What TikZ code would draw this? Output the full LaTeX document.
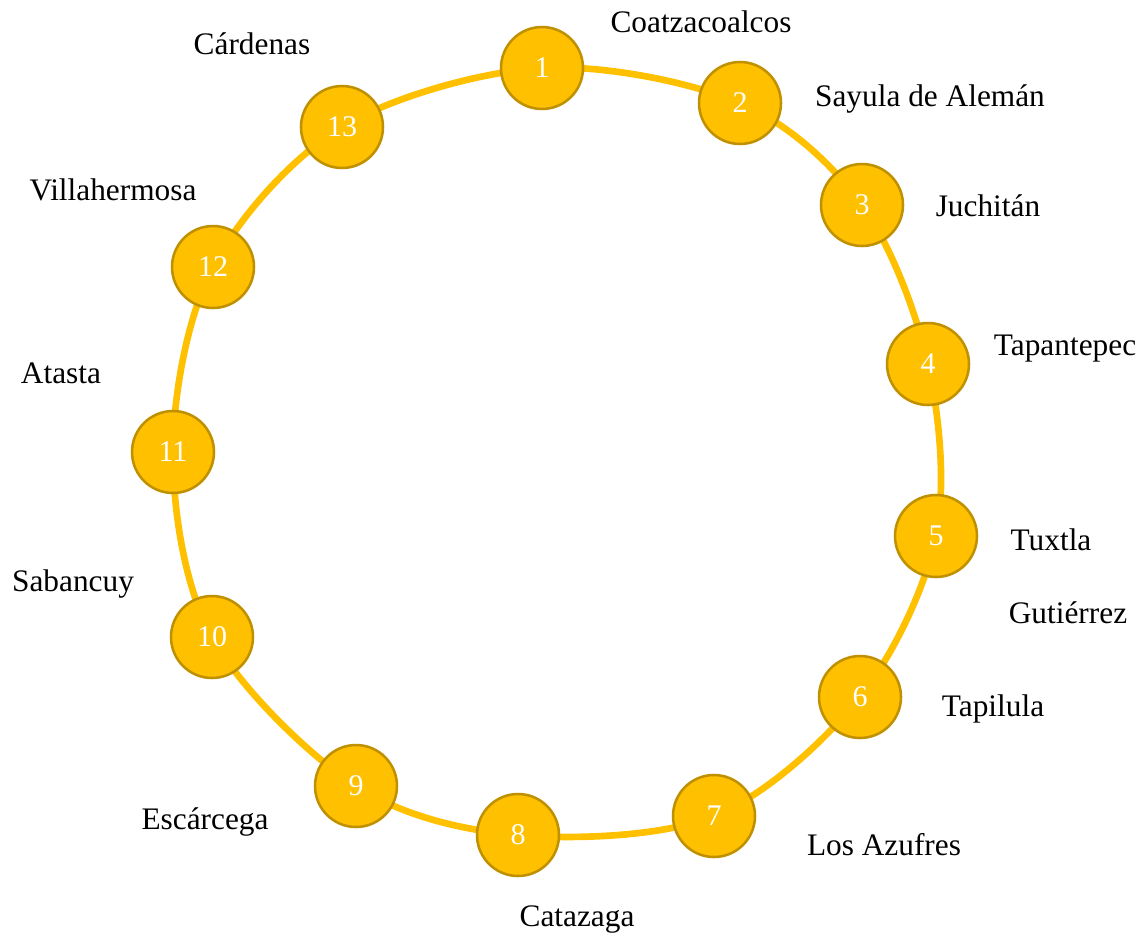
\documentclass[tikz,border=0pt]{standalone}
\usepackage{fontspec}
\setmainfont{Liberation Serif}
\usetikzlibrary{backgrounds}
\definecolor{gold}{HTML}{FFC000}
\definecolor{golddark}{HTML}{BF9000}
\begin{document}
\begin{tikzpicture}[
    x=0.75pt, y=-0.75pt,
    stop/.style ={circle, fill=gold, draw=golddark, line width=1.9pt,
                  minimum size=61.5pt, inner sep=0pt, text=white,
                  font=\fontsize{22.5}{27}\selectfont},
    ring/.style ={draw=gold, line width=5pt},
    lbl/.style  ={anchor=base, inner sep=0pt, font=\fontsize{23.5}{28}\selectfont},
  ]
  \useasboundingbox (0,0) rectangle (1146,936);
  % stations
  \foreach \i/\x/\y in {1/542/68, 2/740/103, 3/862/205, 4/928/364, 5/936/536,
                        6/860/697, 7/714/816, 8/518/835, 9/356/786, 10/212/637,
                        11/173/452, 12/213/267, 13/342/127}
    \node[stop] (s\i) at (\x,\y) {\i};
  % ring through the stations
  \begin{scope}[on background layer]
    \draw[ring] plot[smooth cycle, tension=0.55] coordinates
      {(s1) (s2) (s3) (s4) (s5) (s6) (s7) (s8) (s9) (s10) (s11) (s12) (s13)};
  \end{scope}
  % place names
  \foreach \nm/\txt/\x/\y in {coatza/Coatzacoalcos/701/32,
                              sayula/Sayula de Alemán/930/106,
                              juchitan/Juchitán/988/216,
                              tapan/Tapantepec/1065/355,
                              tuxtla/Tuxtla/1051/550,
                              gutierrez/Gutiérrez/1068/623,
                              tapilula/Tapilula/993/716,
                              azufres/Los Azufres/884/855,
                              catazaga/Catazaga/577/926,
                              escarcega/Escárcega/205/829,
                              sabancuy/Sabancuy/73/591,
                              atasta/Atasta/61/383,
                              villa/Villahermosa/113/200,
                              cardenas/Cárdenas/252/54}
    \node[lbl] (\nm) at (\x,\y) {\txt};
\end{tikzpicture}
\end{document}
